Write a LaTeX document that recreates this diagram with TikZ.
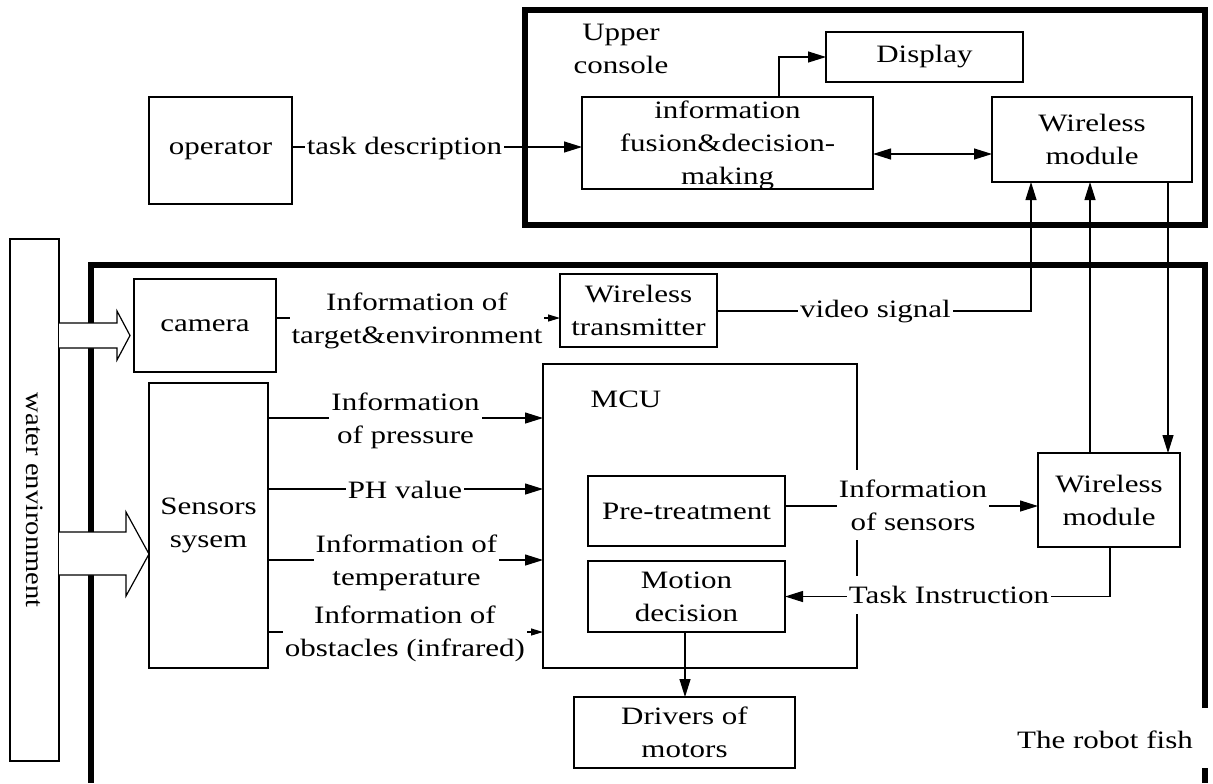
\documentclass[tikz,border=0pt]{standalone}
\usepackage{fontspec}
\setmainfont{Liberation Serif}[FakeStretch=1.24]
\newfontfamily\rotfont{Liberation Serif}[FakeStretch=1.14]
\usetikzlibrary{arrows.meta}
\begin{document}
\begin{tikzpicture}[x=0.5pt,y=-0.5pt,
  font=\fontsize{12.5}{16.5}\selectfont,
  blk/.style={draw, line width=0.6pt, inner sep=0pt, outer sep=0pt, align=center},
  lab/.style={fill=white, inner xsep=1pt, inner ysep=5pt, align=center},
  frame/.style={line width=2.7pt},
  conn/.style={line width=0.6pt},
  arr/.style={conn, -{Triangle[length=9pt,width=5.5pt]}},
  sarr/.style={conn, -{Triangle[length=6pt,width=3.5pt]}},
  darr/.style={conn, {Triangle[length=9pt,width=5.5pt]}-{Triangle[length=9pt,width=5.5pt]}},
  hollow/.style={draw, fill=white, line width=0.6pt, line join=miter}]
\useasboundingbox (0,0) rectangle (1213,783);

% frames
\draw[frame] (525,10) rectangle (1205,225);
\draw[frame] (1205,708) -- (1205,265) -- (91,265) -- (91,783);
\draw[frame] (1205,768) -- (1205,783);

% water environment
\node[blk, minimum width=24.5pt, minimum height=261pt] (water) at (34.5,500) {};
\node[rotate=-90] (waterT) at (water.center) {\rotfont water environment};

% hollow arrows
\draw[hollow] (59,323) -- (117,323) -- (117,311) -- (130,335.5) -- (117,360) -- (117,348) -- (59,348);
\draw[hollow] (59,532) -- (126,532) -- (126,512) -- (149,554) -- (126,596) -- (126,575) -- (59,575);

% upper console
\node[align=center] (upT) at (621,49) {Upper\\console};
\node[blk, minimum width=71.5pt, minimum height=53.5pt] (operator) at (220.5,150.5) {operator};
\node[blk, minimum width=98.5pt, minimum height=25pt] (display) at (924.5,57) {Display};
\node[blk, minimum width=145.5pt, minimum height=46pt] (fusion) at (727.5,143) {};
\node[align=center] (fusionT) at (727.5,145) {information\\fusion\&decision-\\making};
\node[blk, minimum width=100pt, minimum height=42.5pt] (wup) at (1092,139.5) {Wireless\\module};

% robot fish
\node[blk, minimum width=71pt, minimum height=46.5pt] (camera) at (205,325.5) {camera};
\node[blk, minimum width=78.5pt, minimum height=36.5pt] (trans) at (638.5,310.5) {Wireless\\transmitter};
\node[blk, minimum width=59.5pt, minimum height=142.5pt] (sensors) at (208.5,525.5) {Sensors\\sysem};
\node[blk, minimum width=157pt, minimum height=152pt] (mcu) at (700,516) {};
\node (mcuT) at (626,399) {MCU};
\node[blk, minimum width=98.5pt, minimum height=35pt] (pre) at (686.5,511) {Pre-treatment};
\node[blk, minimum width=98.5pt, minimum height=35.5pt] (motion) at (686.5,596.5) {Motion\\decision};
\node[blk, minimum width=110.5pt, minimum height=35.5pt] (drivers) at (684.5,732.5) {Drivers of\\motors};
\node[blk, minimum width=71pt, minimum height=47pt] (wlow) at (1109,500) {Wireless\\module};
\node (fishT) at (1105,740) {The robot fish};

% helper coordinates
\coordinate (yTask) at (0,147);
\coordinate (yDbl) at (0,154);
\coordinate (xDisp) at (779,0);
\coordinate (yCam) at (0,318);
\coordinate (yVid) at (0,311);
\coordinate (xVid) at (1031,0);
\coordinate (xUp) at (1090,0);
\coordinate (xDn) at (1168,0);
\coordinate (yP) at (0,418);
\coordinate (yPH) at (0,489);
\coordinate (yT) at (0,560);
\coordinate (yO) at (0,632);
\coordinate (yInfo) at (0,506);
\coordinate (xTask) at (1110,0);
\coordinate (xDrv) at (685,0);

% connectors
\draw[arr] (operator.east |- yTask) -- (fusion.west |- yTask);
\draw[darr] (fusion.east |- yDbl) -- (wup.west |- yDbl);
\draw[arr] (fusion.north -| xDisp) |- (display.west);
\draw[sarr] (camera.east |- yCam) -- (trans.west |- yCam);
\draw[arr] (trans.east |- yVid) -| (wup.south -| xVid);
\draw[arr] (wlow.north -| xUp) -- (wup.south -| xUp);
\draw[arr] (wup.south -| xDn) -- (wlow.north -| xDn);
\draw[arr] (sensors.east |- yP) -- (mcu.west |- yP);
\draw[arr] (sensors.east |- yPH) -- (mcu.west |- yPH);
\draw[arr] (sensors.east |- yT) -- (mcu.west |- yT);
\draw[sarr] (sensors.east |- yO) -- (mcu.west |- yO);
\draw[arr] (pre.east |- yInfo) -- (wlow.west |- yInfo);
\draw[arr] (wlow.south -| xTask) |- (motion.east);
\draw[arr] (motion.south -| xDrv) -- (drivers.north -| xDrv);

% labels
\node[lab] (lTask) at (404.5,148) {task description};
\node[lab] (lCam) at (417,320.5) {Information of\\target\&environment};
\node[lab] (lVid) at (875.5,312) {video signal};
\node[lab] (lP) at (405.5,420.5) {Information\\of pressure};
\node[lab] (lPH) at (405,489.5) {PH value};
\node[lab] (lT) at (406.5,563) {Information of\\temperature};
\node[lab] (lO) at (405,633.5) {Information of\\obstacles (infrared)};
\node[lab] (lInfo) at (913,505) {Information\\of sensors};
\node[lab] (lTI) at (949,595) {Task Instruction};
\end{tikzpicture}
\end{document}
